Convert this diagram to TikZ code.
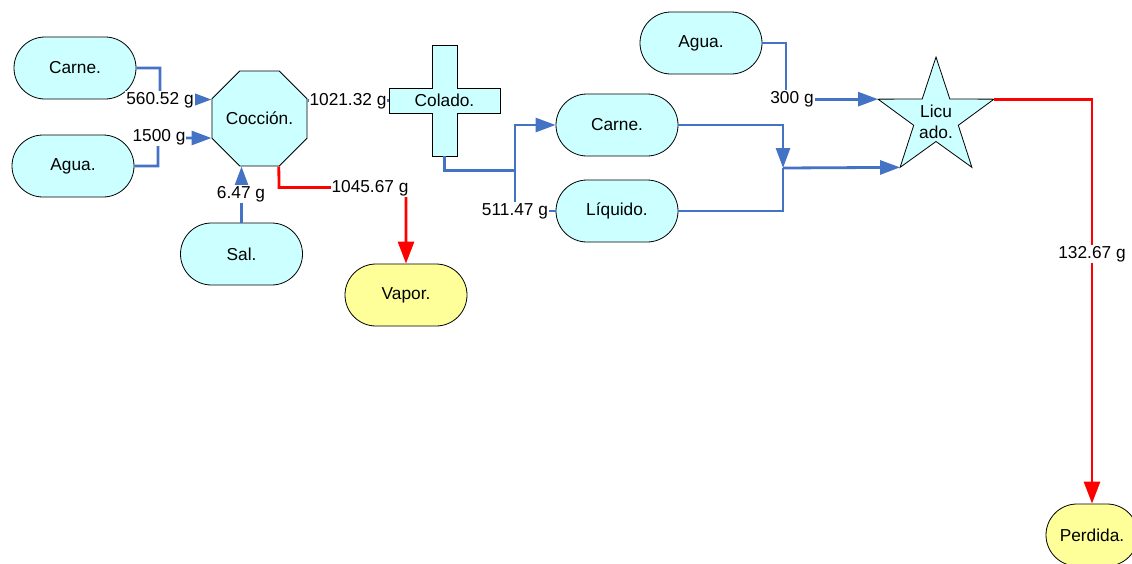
\documentclass[tikz,border=0pt]{standalone}
\usepackage{fontspec}
\setmainfont{Liberation Sans}
\usetikzlibrary{shapes.geometric,shapes.misc,arrows.meta}
\definecolor{flowblue}{RGB}{68,114,196}
\definecolor{boxcyan}{RGB}{204,255,255}
\definecolor{boxyellow}{RGB}{255,255,153}
\definecolor{flowred}{RGB}{255,0,0}

\begin{document}
\begin{tikzpicture}[x=1pt,y=-1pt,
  every node/.style={font=\fontsize{17.3}{21}\selectfont},
  pill/.style={rounded rectangle, draw=black, line width=0.8pt, fill=boxcyan,
    minimum width=122pt, minimum height=62pt, inner sep=0pt},
  pillout/.style={pill, fill=boxyellow},
  shapeline/.style={draw=black, line width=0.8pt, fill=boxcyan},
  flow/.style={draw=flowblue, line width=2.8pt, -{Triangle[length=20pt,width=14pt]}},
  flowplain/.style={draw=flowblue, line width=2.8pt},
  loss/.style={draw=flowred, line width=2.8pt, -{Triangle[length=22pt,width=16pt]}},
  qty/.style={fill=white, inner sep=1pt}
]
\useasboundingbox (0,0) rectangle (1132,563);
\clip (0,0) rectangle (1132,563);

% inputs and outputs
\node[pill] (carne1) at (75,68) {Carne.};
\node[pill] (agua1) at (73,166) {Agua.};
\node[pill] (sal) at (241.5,254) {Sal.};
\node[pillout] (vapor) at (406,295) {Vapor.};
\node[pill] (carne2) at (617,125) {Carne.};
\node[pill] (liquido) at (617,211) {Líquido.};
\node[pill] (agua2) at (701,43) {Agua.};
\node[pillout, minimum width=92pt] (perdida) at (1092,535) {Perdida.};

% cooking step
\node[regular polygon, regular polygon sides=8, minimum size=100.6pt,
  shapeline, inner sep=0pt] (coccion) at (259.5,118.5) {Cocción.};

% straining step (cross)
\path[shapeline] (432,45) -- (457,45) -- (457,88) -- (500,88) -- (500,113)
  -- (457,113) -- (457,156) -- (432,156) -- (432,113) -- (389,113)
  -- (389,88) -- (432,88) -- cycle;
\node[minimum width=111pt, minimum height=111pt, inner sep=0pt] (colado)
  at (444.5,100.5) {Colado.};

% blending step (star)
\path[shapeline] (936,57) -- (949.8,99.0) -- (994.0,99.15) -- (958.3,125.3)
  -- (971.9,167.35) -- (936,141.5) -- (900.1,167.35) -- (913.7,125.3)
  -- (878.0,99.15) -- (922.2,99.0) -- cycle;
\node[align=center, inner sep=0pt] (licuado) at (936,122) {Licu\\ado.};
\coordinate (starL) at (878.0,99.15);
\coordinate (starR) at (994.0,99.15);
\coordinate (starBL) at (900.1,167.35);
\coordinate (merge) at (783,168);

% flows
\draw[flow] (carne1.east) -- (160,68) -- (160,99.5) -- ([yshift=19pt]coccion.west);
\draw[flow] (agua1.east) -- (158,166) -- (158,138) -- ([yshift=-19.5pt]coccion.west);
\draw[flow] (sal.north) -- (sal.north |- coccion.south);
\draw[flowplain] ([yshift=18pt]coccion.east) -- (colado.west);
\draw[loss] ([xshift=19.3pt]coccion.south) -- (279,187.5) -- (406,187.5) -- (vapor.north);
\draw[flow] (colado.south) -- (444.5,170.5) -- (515,170.5) -- (515,125) -- (carne2.west);
\draw[flowplain] (515,170.5) -- (515,211) -- (liquido.west);
\draw[flow] (carne2.east) -| (merge);
\draw[flowplain] (liquido.east) -| (merge);
\draw[flow] (merge) -- (starBL);
\draw[flow] (agua2.east) -- (786,43) -- (786,99.15) -- (starL);
\draw[loss] (starR) -- (1092,99.15) -- (perdida.north);

% quantities
\node[qty] (q1) at (160,100) {560.52 g};
\node[qty] (q2) at (159,137) {1500 g};
\node[qty] (q3) at (241,194) {6.47 g};
\node[qty] (q4) at (348,101) {1021.32 g};
\node[qty] (q5) at (370,188) {1045.67 g};
\node[qty] (q6) at (515,211) {511.47 g};
\node[qty] (q7) at (792,99) {300 g};
\node[qty] (q8) at (1092,254) {132.67 g};
\end{tikzpicture}
\end{document}
